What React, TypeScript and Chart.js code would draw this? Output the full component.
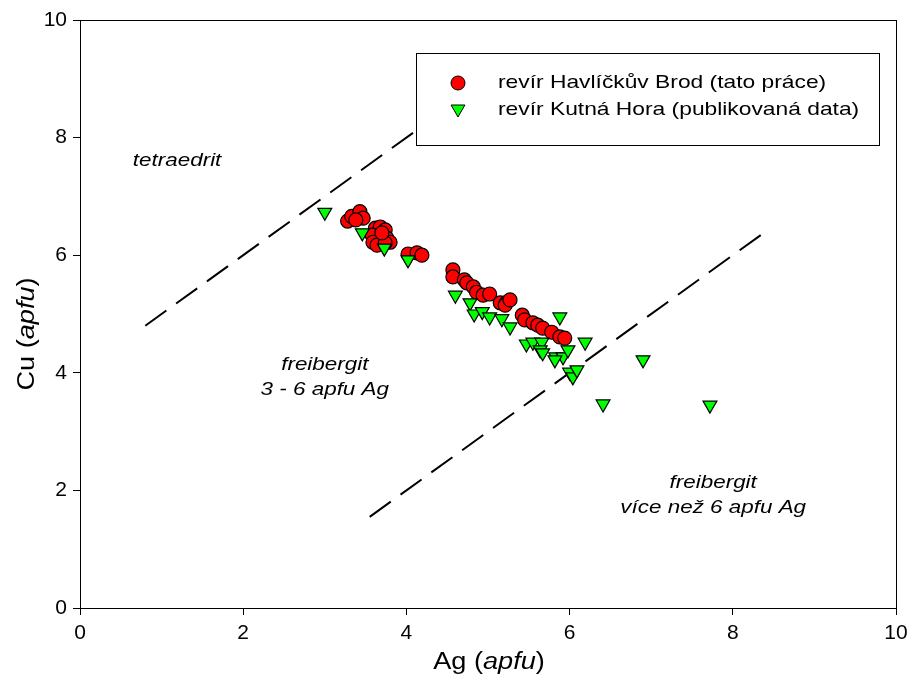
import React, { useEffect, useRef } from "react";
import { Chart, registerables } from "chart.js";

Chart.register(...registerables);

// Havlíčkův Brod (red circles)
const brodAg = [3.28, 3.33, 3.43, 3.47, 3.38, 3.62, 3.68, 3.74, 3.58, 3.59, 3.76, 3.80, 3.64, 3.74, 3.70, 4.02, 4.13, 4.19,
  4.57, 4.57, 4.71, 4.74, 4.82, 4.86, 4.94, 5.02, 5.15, 5.23, 5.21, 5.27, 5.42, 5.45, 5.55, 5.61, 5.67, 5.78, 5.88, 5.94];
const brodCu = [6.58, 6.66, 6.74, 6.63, 6.60, 6.46, 6.48, 6.43, 6.34, 6.22, 6.29, 6.22, 6.17, 6.21, 6.38, 6.02, 6.04, 6.00,
  5.75, 5.63, 5.58, 5.53, 5.46, 5.37, 5.32, 5.34, 5.19, 5.20, 5.15, 5.24, 4.98, 4.90, 4.85, 4.81, 4.76, 4.69, 4.61, 4.59];

// Kutná Hora (green triangles)
const kutnaAg = [3.00, 3.46, 3.73, 4.02, 4.60, 4.78, 4.83, 4.93, 5.02, 5.17, 5.27, 5.88, 5.47, 5.55, 5.66, 5.64, 5.67,
  5.83, 5.92, 5.98, 6.19, 5.82, 6.00, 6.04, 6.09, 6.90, 6.41, 7.72];
const kutnaCu = [6.73, 6.38, 6.12, 5.92, 5.32, 5.19, 5.00, 5.04, 4.95, 4.92, 4.78, 4.95, 4.49, 4.52, 4.52, 4.39, 4.34,
  4.27, 4.27, 4.39, 4.52, 4.22, 4.01, 3.93, 4.05, 4.22, 3.47, 3.45];

// Boundary lines
const upperLineAg = [0.8, 5.0];
const upperLineCu = [4.8, 9.0];
const lowerLineAg = [3.55, 8.42];
const lowerLineCu = [1.55, 6.42];

const seriesLabels = ["revír Havlíčkův Brod (tato práce)", "revír Kutná Hora (publikovaná data)"];
const xTitle = ["Ag (", "apfu", ")"];
const yTitle = ["Cu (", "apfu", ")"];
const fieldLabels = [
  { lines: ["tetraedrit"], ag: 1.19, cu: 7.6 },
  { lines: ["freibergit", "3 - 6 apfu Ag"], ag: 3.0, cu: 4.13 },
  { lines: ["freibergit", "více než 6 apfu Ag"], ag: 7.76, cu: 2.13 },
];

const FONT = "'Liberation Sans', Arial, sans-serif";
const SX = 1.18;

const toPts = (xs: number[], ys: number[]) => xs.map((x, i) => ({ x, y: ys[i] }));

function drawTriangleDown(ctx: CanvasRenderingContext2D, x: number, y: number, r: number) {
  ctx.beginPath();
  for (let k = 0; k < 3; k++) {
    const a = Math.PI + (k * 2 * Math.PI) / 3;
    const px = x + Math.sin(a) * r;
    const py = y - Math.cos(a) * r;
    if (k === 0) ctx.moveTo(px, py);
    else ctx.lineTo(px, py);
  }
  ctx.closePath();
  ctx.fill();
  ctx.stroke();
}

function drawMixed(ctx: CanvasRenderingContext2D, parts: string[], size: number) {
  const fonts = [`${size}px ${FONT}`, `italic ${size}px ${FONT}`, `${size}px ${FONT}`];
  const widths = parts.map((p, i) => {
    ctx.font = fonts[i];
    return ctx.measureText(p).width;
  });
  const total = widths.reduce((a, b) => a + b, 0);
  let x = -total / 2;
  ctx.textAlign = "left";
  ctx.textBaseline = "middle";
  parts.forEach((p, i) => {
    ctx.font = fonts[i];
    ctx.fillText(p, x, 0);
    x += widths[i];
  });
}

const overlayPlugin = {
  id: "overlay",
  afterDraw(chart: any) {
    const ctx: CanvasRenderingContext2D = chart.ctx;
    const { left, right, top, bottom } = chart.chartArea;
    const xs = chart.scales.x;
    const ys = chart.scales.y;
    ctx.save();
    ctx.strokeStyle = "#000";
    ctx.lineWidth = 1;
    ctx.strokeRect(left + 0.5, top + 0.5, right - left, bottom - top);

    ctx.fillStyle = "#000";
    fieldLabels.forEach((f) => {
      const cx = xs.getPixelForValue(f.ag);
      const cy = ys.getPixelForValue(f.cu);
      f.lines.forEach((line, i) => {
        ctx.save();
        ctx.translate(cx, cy + i * 25);
        ctx.scale(SX, 1);
        ctx.font = `italic 19px ${FONT}`;
        ctx.textAlign = "center";
        ctx.textBaseline = "middle";
        ctx.fillText(line, 0, 0);
        ctx.restore();
      });
    });

    ctx.save();
    ctx.translate((left + right) / 2 + 1, 663);
    ctx.scale(SX, 1);
    drawMixed(ctx, xTitle, 23);
    ctx.restore();

    ctx.save();
    ctx.translate(28, (top + bottom) / 2 + 20);
    ctx.rotate(-Math.PI / 2);
    ctx.scale(SX, 1);
    drawMixed(ctx, yTitle, 23);
    ctx.restore();

    const lx = 416, ly = 53, lw = 463, lh = 92;
    ctx.fillStyle = "#fff";
    ctx.fillRect(lx, ly, lw, lh);
    ctx.strokeStyle = "#000";
    ctx.lineWidth = 1;
    ctx.strokeRect(lx + 0.5, ly + 0.5, lw, lh);

    ctx.lineWidth = 1;
    ctx.fillStyle = "#ff0000";
    ctx.beginPath();
    ctx.arc(458, 83, 7, 0, Math.PI * 2);
    ctx.fill();
    ctx.stroke();
    ctx.fillStyle = "#00ff00";
    drawTriangleDown(ctx, 458, 109, 8);

    ctx.fillStyle = "#000";
    seriesLabels.forEach((t, i) => {
      ctx.save();
      ctx.translate(498, 83 + i * 27);
      ctx.scale(1.2, 1);
      ctx.font = `19px ${FONT}`;
      ctx.textAlign = "left";
      ctx.textBaseline = "middle";
      ctx.fillText(t, 0, 0);
      ctx.restore();
    });
    ctx.restore();
  },
};

export default function App() {
  const ref = useRef<HTMLCanvasElement | null>(null);
  useEffect(() => {
    document.body.style.margin = "0";
    const canvas = ref.current;
    if (!canvas) return;
    const axisCommon = {
      type: "linear" as const,
      min: 0,
      max: 10,
      grid: { drawOnChartArea: false, drawTicks: true, tickLength: 7, color: "#000", tickWidth: 1 },
      border: { color: "#000", width: 1 },
    };
    const chart = new Chart(canvas, {
      type: "scatter",
      data: {
        datasets: [
          {
            label: seriesLabels[1],
            data: toPts(kutnaAg, kutnaCu),
            pointStyle: "triangle",
            pointRotation: 180,
            pointRadius: 8,
            pointBackgroundColor: "#00ff00",
            pointBorderColor: "#000",
            pointBorderWidth: 1.2,
            order: 1,
          },
          {
            label: seriesLabels[0],
            data: toPts(brodAg, brodCu),
            pointStyle: "circle",
            pointRadius: 7,
            pointBackgroundColor: "#ff0000",
            pointBorderColor: "#000",
            pointBorderWidth: 1.2,
            order: 2,
          },
          {
            label: "upper",
            data: toPts(upperLineAg, upperLineCu),
            showLine: true,
            borderColor: "#000",
            borderWidth: 2,
            borderDash: [26, 12],
            pointRadius: 0,
            order: 3,
          },
          {
            label: "lower",
            data: toPts(lowerLineAg, lowerLineCu),
            showLine: true,
            borderColor: "#000",
            borderWidth: 2,
            borderDash: [26, 12],
            pointRadius: 0,
            order: 3,
          },
        ],
      },
      options: {
        animation: false,
        responsive: false,
        devicePixelRatio: 1,
        layout: { padding: { top: 20, right: 13, left: 0, bottom: 0 } },
        plugins: { legend: { display: false }, tooltip: { enabled: false } },
        scales: {
          x: {
            ...axisCommon,
            ticks: { stepSize: 2, color: "#000", font: { size: 21, family: FONT }, padding: 6 },
            afterFit: (s: any) => { s.height = 68; s.paddingLeft = 0; s.paddingRight = 0; },
          },
          y: {
            ...axisCommon,
            ticks: { stepSize: 2, color: "#000", font: { size: 21, family: FONT }, padding: 6 },
            afterFit: (s: any) => { s.width = 80; s.paddingTop = 0; s.paddingBottom = 0; },
          },
        },
      } as any,
      plugins: [overlayPlugin],
    });
    return () => chart.destroy();
  }, []);
  return (
    <div style={{ position: "absolute", left: 0, top: 0, width: 909, height: 676, background: "#fff" }}>
      <canvas ref={ref} width={909} height={676} style={{ display: "block" }} />
    </div>
  );
}
